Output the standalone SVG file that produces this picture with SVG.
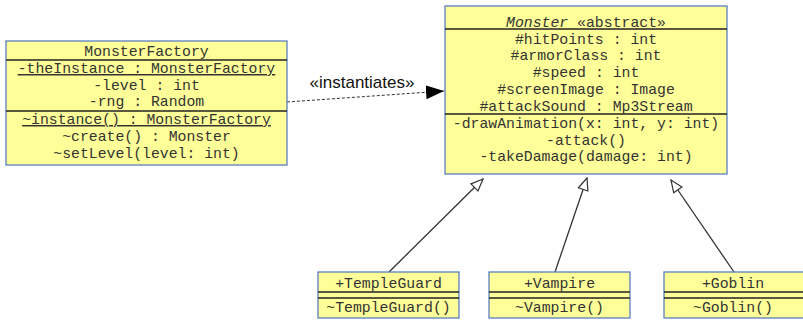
<svg xmlns="http://www.w3.org/2000/svg" width="803" height="321" viewBox="0 0 803 321">
<defs>
<style>
.box{fill:#ffff99;stroke:#5b7fbf;stroke-width:1.3}
.sep{stroke:#222;stroke-width:1.3}
.t{font-family:"Liberation Mono","Courier New",monospace;font-size:14.8px;fill:#333;text-anchor:middle}
.u{text-decoration:underline}
.i{font-style:italic}
.lbl{font-family:"Liberation Sans",Arial,sans-serif;font-size:17px;fill:#111;text-anchor:middle}
.gen{stroke:#333;stroke-width:1.3;fill:none}
</style>
<marker id="hollow" markerWidth="14" markerHeight="14" refX="13" refY="6" orient="auto" markerUnits="userSpaceOnUse">
<path d="M1,1 L13,6 L1,11 Z" fill="#fff" stroke="#333" stroke-width="1.2"/>
</marker>
<marker id="filled" markerWidth="20" markerHeight="14" refX="18" refY="7" orient="auto" markerUnits="userSpaceOnUse">
<path d="M0,0 L18,7 L0,14 Z" fill="#000"/>
</marker>
</defs>
<g id="connectors">
<path d="M287,102 L444,91" stroke="#333" stroke-width="1" stroke-dasharray="3,2" fill="none" marker-end="url(#filled)"/>
<text class="lbl" x="362" y="88">«instantiates»</text>
<path class="gen" d="M389,272 L483,179" marker-end="url(#hollow)"/>
<path class="gen" d="M555,272 L587,178" marker-end="url(#hollow)"/>
<path class="gen" d="M734,272 L671,180" marker-end="url(#hollow)"/>
</g>
<g id="MonsterFactory">
<rect class="box" x="6" y="41" width="281" height="124"/>
<line class="sep" x1="6" y1="60" x2="287" y2="60"/>
<line class="sep" x1="6" y1="111" x2="287" y2="111"/>
<text class="t" x="146.5" y="56">MonsterFactory</text>
<text class="t u" x="146.5" y="73">-theInstance : MonsterFactory</text>
<text class="t" x="146.5" y="90">-level : int</text>
<text class="t" x="146.5" y="106">-rng : Random</text>
<text class="t u" x="146.5" y="124">~instance() : MonsterFactory</text>
<text class="t" x="146.5" y="141">~create() : Monster</text>
<text class="t" x="146.5" y="158">~setLevel(level: int)</text>
</g>
<g id="Monster">
<rect class="box" x="445" y="6" width="282" height="168"/>
<line class="sep" x1="445" y1="29" x2="727" y2="29"/>
<line class="sep" x1="445" y1="114" x2="727" y2="114"/>
<text class="t" x="586" y="27"><tspan class="i">Monster</tspan> «abstract»</text>
<text class="t" x="586" y="44">#hitPoints : int</text>
<text class="t" x="586" y="60">#armorClass : int</text>
<text class="t" x="586" y="77">#speed : int</text>
<text class="t" x="586" y="94">#screenImage : Image</text>
<text class="t" x="586" y="111">#attackSound : Mp3Stream</text>
<text class="t" x="586" y="128">-drawAnimation(x: int, y: int)</text>
<text class="t" x="586" y="145">-attack()</text>
<text class="t" x="586" y="161">-takeDamage(damage: int)</text>
</g>
<g id="TempleGuard">
<rect class="box" x="318" y="272" width="141" height="46"/>
<line class="sep" x1="318" y1="292" x2="459" y2="292"/>
<line class="sep" x1="318" y1="298" x2="459" y2="298"/>
<text class="t" x="388.5" y="288">+TempleGuard</text>
<text class="t" x="388.5" y="312">~TempleGuard()</text>
</g>
<g id="Vampire">
<rect class="box" x="489" y="272" width="141" height="46"/>
<line class="sep" x1="489" y1="292" x2="630" y2="292"/>
<line class="sep" x1="489" y1="298" x2="630" y2="298"/>
<text class="t" x="559.5" y="288">+Vampire</text>
<text class="t" x="559.5" y="312">~Vampire()</text>
</g>
<g id="Goblin">
<rect class="box" x="664" y="272" width="140" height="46"/>
<line class="sep" x1="664" y1="292" x2="803" y2="292"/>
<line class="sep" x1="664" y1="298" x2="803" y2="298"/>
<text class="t" x="733" y="288">+Goblin</text>
<text class="t" x="733" y="312">~Goblin()</text>
</g>
</svg>
